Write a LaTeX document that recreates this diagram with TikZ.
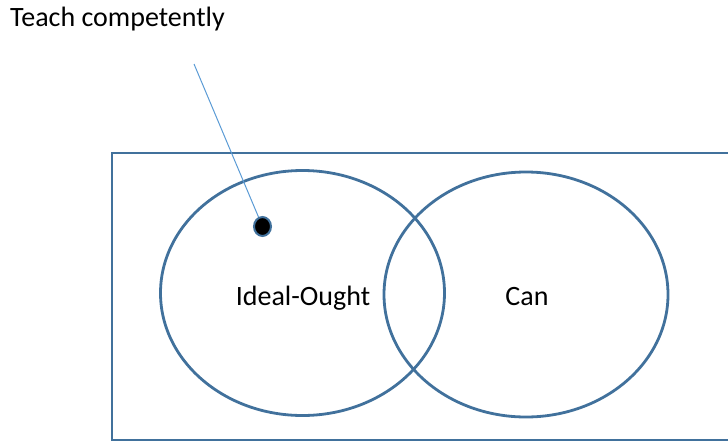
\documentclass[tikz,border=0pt]{standalone}
\usepackage{fontspec}
\setmainfont{Carlito}
\usetikzlibrary{shapes.geometric}
\definecolor{outline}{HTML}{41719C}
\definecolor{leader}{HTML}{5B9BD5}
\tikzset{
  setring/.style={ellipse, draw=outline, line width=2.8pt, minimum width=284pt, minimum height=245pt, inner sep=0pt},
  frame/.style={draw=outline, line width=2.8pt},
  label/.style={font=\fontsize{28}{32}\selectfont, inner sep=0pt, anchor=base},
  marker/.style={ellipse, fill=black, draw=outline, line width=2pt, minimum width=17pt, minimum height=19pt, inner sep=0pt},
  leaderline/.style={draw=leader, line width=1pt}
}
\begin{document}
\begin{tikzpicture}[x=1pt, y=-1pt]
\useasboundingbox (0,0) rectangle (728,442);
% universe frame, running off the right edge
\draw[frame] (732,153) -- (112,153) -- (112,440) -- (732,440);
% the two sets
\node[setring] (ideal) at (302.5,293) {};
\node[setring] (can) at (526,294.5) {};
\node[label] (idealtext) at (303,305) {Ideal-Ought};
\node[label] (cantext) at (527,305) {Can};
% the marked point and its callout
\node[marker] (pt) at (262.5,226.5) {};
\node[label, anchor=base west] (callout) at (10,26) {Teach competently};
\coordinate (lead) at (194,64);
\draw[leaderline] (lead) -- (pt);
\end{tikzpicture}
\end{document}
